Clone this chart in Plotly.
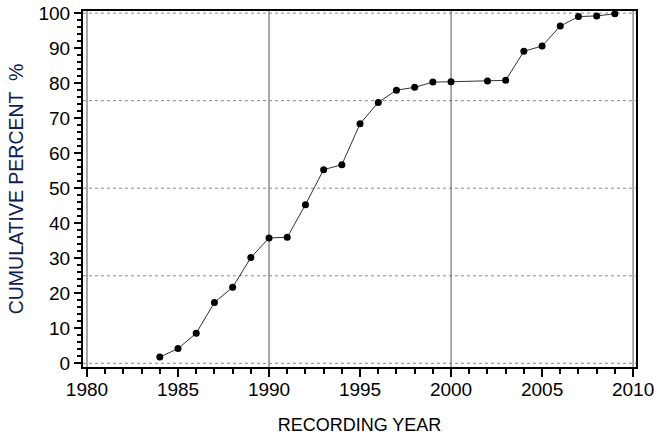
import plotly.graph_objects as go

# Cumulative share of recordings by year
years = [1984, 1985, 1986, 1987, 1988, 1989, 1990, 1991, 1992, 1993, 1994,
         1995, 1996, 1997, 1998, 1999, 2000, 2002, 2003, 2004, 2005, 2006,
         2007, 2008, 2009]
cum_percent = [1.8, 4.2, 8.6, 17.4, 21.7, 30.2, 35.8, 36.0, 45.3, 55.3, 56.7,
               68.4, 74.5, 78.0, 78.8, 80.3, 80.4, 80.6, 80.8, 89.1, 90.6, 96.3,
               99.0, 99.2, 99.8]

x_ticks = [1980, 1985, 1990, 1995, 2000, 2005, 2010]
y_ticks = [0, 10, 20, 30, 40, 50, 60, 70, 80, 90, 100]
y_guides = [0, 25, 50, 75, 100]
x_guides = [1980, 1990, 2000, 2010]

X_RANGE = [1979.78, 2010.16]
Y_RANGE = [-1.05, 100.6]

TICK_FONT = dict(family="Liberation Sans, Arial, sans-serif", size=19, color="#000000")
TITLE_FONT = "Liberation Sans, Arial, sans-serif"

fig = go.Figure()

fig.add_trace(go.Scatter(
    x=years, y=cum_percent, mode="lines+markers",
    line=dict(color="#333333", width=1),
    marker=dict(color="#000000", size=7, symbol="circle"),
    showlegend=False, cliponaxis=False,
))

shapes = []
for v in y_guides:
    shapes.append(dict(type="line", xref="paper", yref="y", x0=0, x1=1, y0=v, y1=v,
                       line=dict(color="#8a8a8a", width=1, dash="dot"), layer="below"))
for v in x_guides:
    shapes.append(dict(type="line", xref="x", yref="paper", x0=v, x1=v, y0=0, y1=1,
                       line=dict(color="#555555", width=1), layer="below"))

fig.update_layout(
    width=654, height=439,
    margin=dict(l=83, r=18, t=11, b=72),
    paper_bgcolor="#ffffff", plot_bgcolor="#ffffff",
    shapes=shapes,
    xaxis=dict(
        range=X_RANGE, tickmode="array", tickvals=x_ticks,
        ticktext=[str(t) for t in x_ticks], automargin=False,
        ticklabeloverflow="allow", ticklabelstandoff=-4,
        ticks="outside", ticklen=8, tickwidth=2, tickcolor="#000000",
        minor=dict(dtick=1, tick0=1980, ticks="outside", ticklen=5,
                   tickwidth=2, tickcolor="#000000", showgrid=False),
        showgrid=False, zeroline=False,
        showline=True, linecolor="#000000", linewidth=2, mirror=True,
        tickfont=TICK_FONT,
        title=dict(text="RECORDING YEAR", standoff=20,
                   font=dict(family=TITLE_FONT, size=18, color="#000000")),
    ),
    yaxis=dict(
        range=Y_RANGE, tickmode="array", tickvals=y_ticks,
        ticktext=[str(t) for t in y_ticks], automargin=False,
        ticklabeloverflow="allow",
        ticks="outside", ticklen=7, tickwidth=2, tickcolor="#000000",
        minor=dict(dtick=2, tick0=0, ticks="outside", ticklen=4,
                   tickwidth=2, tickcolor="#000000", showgrid=False),
        showgrid=False, zeroline=False,
        showline=True, linecolor="#000000", linewidth=2, mirror=True,
        tickfont=TICK_FONT,
        title=dict(text="CUMULATIVE PERCENT  %", standoff=10,
                   font=dict(family=TITLE_FONT, size=19.5, color="#102050")),
    ),
)

fig.write_html("out.html")
